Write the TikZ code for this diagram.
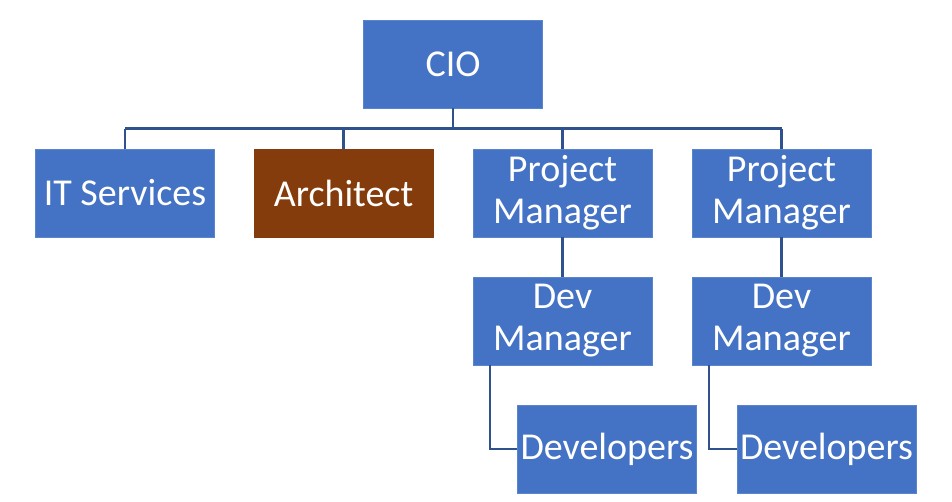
\documentclass[tikz,border=0pt]{standalone}
\usepackage{fontspec}
\setmainfont{Carlito}
\definecolor{boxblue}{HTML}{4472C4}
\definecolor{boxedge}{HTML}{5A84CC}
\definecolor{boxbrown}{HTML}{843C0C}
\definecolor{linkblue}{HTML}{2F528F}

\begin{document}
\begin{tikzpicture}[x=1pt,y=-1pt,
  orgbox/.style={draw=boxedge, line width=0.8pt, fill=boxblue, text=white,
    minimum width=179pt, minimum height=88pt, inner sep=0pt, align=center,
    font=\fontsize{38}{42}\selectfont},
  link/.style={draw=linkblue, line width=2.2pt}]

\useasboundingbox (0,0) rectangle (952,501);

\node[orgbox] (cio) at (453,64) {CIO};
\node[orgbox] (its) at (125,193) {IT Services};
\node[orgbox, fill=boxbrown, draw=boxbrown] (arch) at (343.5,193) {Architect};
\node[orgbox] (pma) at (562.5,193) {Project\\Manager};
\node[orgbox] (pmb) at (781.5,193) {Project\\Manager};
\node[orgbox] (dma) at (562.5,321) {Dev\\Manager};
\node[orgbox] (dmb) at (781.5,321) {Dev\\Manager};
\node[orgbox] (deva) at (607,449) {Developers};
\node[orgbox] (devb) at (826.5,449) {Developers};

\coordinate (bus) at (453,128.5);

\draw[link] (cio.south) -- (cio.south |- bus);
\draw[link] (its.north |- bus) -- (pmb.north |- bus);
\foreach \n in {its,arch,pma,pmb}
  \draw[link] (\n.north) -- (\n.north |- bus);

\draw[link] (pma) -- (dma);
\draw[link] (pmb) -- (dmb);

\draw[link] ([xshift=17pt]dma.south west) |- (deva.west);
\draw[link] ([xshift=17pt]dmb.south west) |- (devb.west);

\end{tikzpicture}
\end{document}
